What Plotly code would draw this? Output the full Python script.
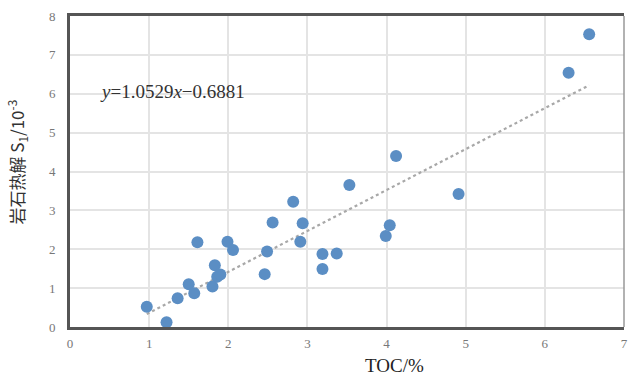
import plotly.graph_objects as go

toc = [0.97, 1.22, 1.36, 1.50, 1.57, 1.61, 1.80, 1.83, 1.86, 1.90, 1.99, 2.06, 2.46, 2.49,
       2.56, 2.82, 2.91, 2.94, 3.19, 3.19, 3.37, 3.53, 3.99, 4.04, 4.12, 4.91, 6.30, 6.56]
s1 = [0.52, 0.12, 0.74, 1.10, 0.87, 2.18, 1.04, 1.59, 1.29, 1.35, 2.19, 1.98, 1.36, 1.94,
      2.69, 3.22, 2.19, 2.67, 1.88, 1.49, 1.89, 3.65, 2.34, 2.62, 4.40, 3.42, 6.54, 7.53]
slope = 1.0529
intercept = -0.6881
x_ticks = [0, 1, 2, 3, 4, 5, 6, 7]
y_ticks = [0, 1, 2, 3, 4, 5, 6, 7, 8]

serif = "Liberation Serif, Times New Roman, serif"

tx = [min(toc), max(toc)]
ty = [slope * v + intercept for v in tx]

fig = go.Figure()
fig.add_trace(go.Scatter(x=tx, y=ty, mode="lines",
                         line=dict(color="#a8a8a8", width=2.2, dash="dot"),
                         hoverinfo="skip", showlegend=False))
fig.add_trace(go.Scatter(x=toc, y=s1, mode="markers",
                         marker=dict(color="#5b8ec4", size=12, line=dict(width=0)),
                         showlegend=False))

fig.update_layout(
    width=629, height=381,
    margin=dict(l=70, r=5, t=16, b=54),
    paper_bgcolor="white", plot_bgcolor="white",
    font=dict(family=serif, size=13, color="#777"),
    xaxis=dict(range=[0, 7], tickvals=x_ticks, showgrid=True, gridcolor="#e4e4e4", gridwidth=1.5,
               zeroline=False, showline=True, linecolor="#555", linewidth=3, mirror=True,
               automargin=False,
               ticks="", ticklabelstandoff=2, tickfont=dict(family=serif, size=13, color="#777")),
    yaxis=dict(range=[0, 8], tickvals=y_ticks, showgrid=True, gridcolor="#e4e4e4", gridwidth=1.5,
               zeroline=False, showline=True, linecolor="#555", linewidth=3,
               automargin=False,
               ticks="", ticklabelstandoff=9, tickfont=dict(family=serif, size=13, color="#777")),
    shapes=[dict(type="line", xref="paper", yref="paper", x0=1, x1=1, y0=0, y1=1,
                 line=dict(color="#999", width=1.5))],
    annotations=[
        dict(text="<i>y</i>=1.0529<i>x</i>−0.6881", x=0.35, y=6.05, xref="x", yref="y",
             xanchor="left", yanchor="middle", showarrow=False,
             font=dict(family=serif, size=19, color="#333")),
        dict(text="TOC/%", x=0.585, y=-0.125, xref="paper", yref="paper",
             xanchor="center", yanchor="middle", showarrow=False,
             font=dict(family=serif, size=19, color="#222")),
        dict(text="岩石热解 S<sub>1</sub>/10<sup>-3</sup>", x=-0.095, y=0.53, xref="paper", yref="paper",
             xanchor="center", yanchor="middle", textangle=-90, showarrow=False,
             font=dict(family="Noto Sans CJK SC, serif", size=17, color="#333")),
    ],
)
fig.write_html("out.html", config={"displayModeBar": False})

with open("out.html", "r", encoding="utf-8") as f:
    html = f.read()
html = html.replace("<head>", "<head><style>html,body{margin:0;padding:0;overflow:hidden;}</style>", 1)
with open("out.html", "w", encoding="utf-8") as f:
    f.write(html)
